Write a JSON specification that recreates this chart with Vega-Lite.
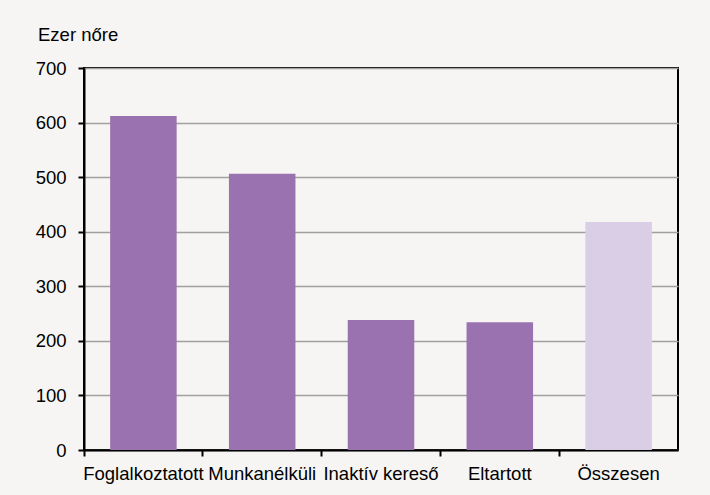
{
  "$schema": "https://vega.github.io/schema/vega-lite/v6.json",
  "width": 594,
  "height": 382,
  "autosize": "none",
  "padding": {"left": 84, "top": 68, "right": 32, "bottom": 45},
  "background": "#f6f5f3",
  "title": {
    "text": "Ezer nőre",
    "anchor": "start",
    "frame": "group",
    "dx": -46,
    "offset": 15,
    "font": "Liberation Sans",
    "fontSize": 18.5,
    "fontWeight": "normal",
    "color": "#000000"
  },
  "data": {
    "values": [
      {"kategoria": "Foglalkoztatott", "ertek": 612, "tipus": "a"},
      {"kategoria": "Munkanélküli", "ertek": 506, "tipus": "a"},
      {"kategoria": "Inaktív kereső", "ertek": 238, "tipus": "a"},
      {"kategoria": "Eltartott", "ertek": 234, "tipus": "a"},
      {"kategoria": "Összesen", "ertek": 418, "tipus": "b"}
    ]
  },
  "mark": {"type": "bar", "width": {"band": 0.56}},
  "encoding": {
    "x": {
      "field": "kategoria",
      "type": "nominal",
      "sort": null,
      "scale": {"paddingInner": 0, "paddingOuter": 0},
      "axis": {
        "title": null,
        "labelAngle": 0,
        "bandPosition": 0,
        "domainColor": "#000000",
        "domainWidth": 2,
        "tickColor": "#000000",
        "tickWidth": 2,
        "tickSize": 6,
        "labelPadding": 8,
        "labelFont": "Liberation Sans",
        "labelFontSize": 18.5,
        "labelColor": "#000000",
        "grid": false
      }
    },
    "y": {
      "field": "ertek",
      "type": "quantitative",
      "scale": {"domain": [0, 700]},
      "axis": {
        "title": null,
        "values": [0, 100, 200, 300, 400, 500, 600, 700],
        "domainColor": "#000000",
        "domainWidth": 2,
        "tickColor": "#000000",
        "tickWidth": 2,
        "tickSize": 6,
        "labelPadding": 12,
        "labelFont": "Liberation Sans",
        "labelFontSize": 18.5,
        "labelColor": "#000000",
        "grid": true,
        "gridColor": "#a0a0a0",
        "gridWidth": 1.5
      }
    },
    "color": {
      "field": "tipus",
      "type": "nominal",
      "scale": {"domain": ["a", "b"], "range": ["#9b72b0", "#dacde6"]},
      "legend": null
    }
  },
  "config": {
    "view": {"stroke": "#000000", "strokeWidth": 2, "fill": "#f6f5f3"}
  }
}
